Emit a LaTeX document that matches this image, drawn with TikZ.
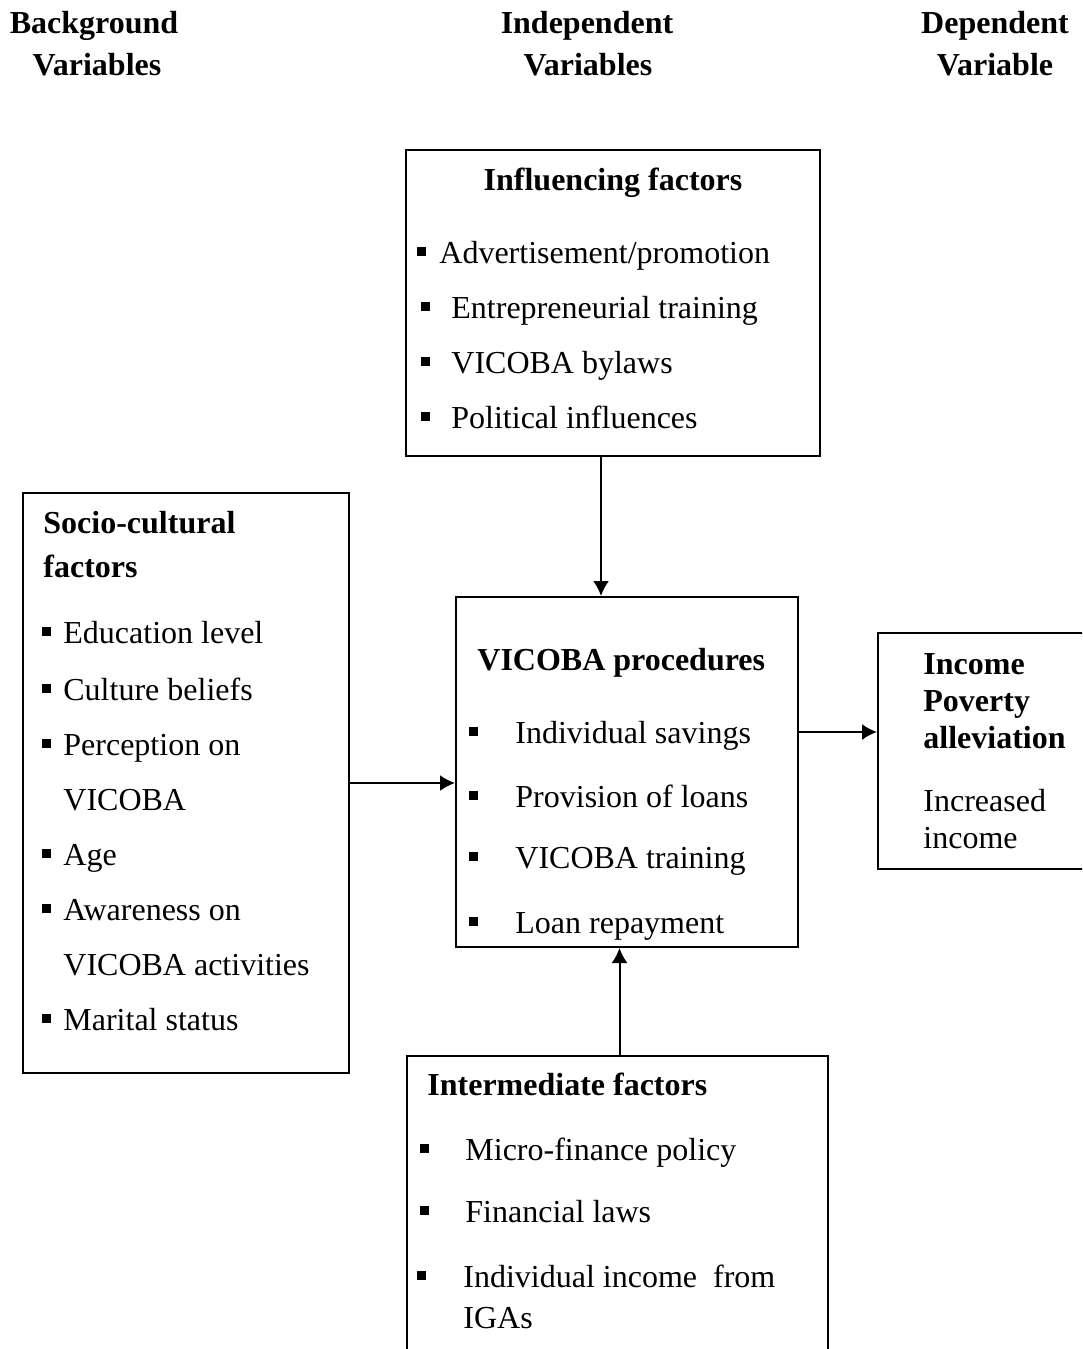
\documentclass[tikz,border=0pt]{standalone}
\usepackage{fontspec}
\setmainfont{Liberation Serif}
\usetikzlibrary{positioning,fit,arrows.meta}

\begin{document}
\begin{tikzpicture}[
    x=0.5pt, y=-0.5pt,
    box/.style={draw, line width=1pt, inner sep=0pt},
    head/.style={font=\fontsize{16}{19}\selectfont\bfseries, inner sep=0pt},
    item/.style={font=\fontsize{16}{19}\selectfont, inner sep=0pt, anchor=base west},
    bullet/.style={fill, inner sep=0pt, minimum size=4.5pt},
    arrow/.style={-{Latex[length=7.5pt,width=8pt]}, line width=1pt}
  ]
  \useasboundingbox (0,0) rectangle (1082,1349);
  \clip (0,0) rectangle (1082,1349);

  % Column headings
  \node[head, anchor=base] (bg1) at (94,33) {Background};
  \node[head, anchor=base] (bg2) at (97,75) {Variables};
  \node[head, anchor=base] (iv1) at (587,33) {Independent};
  \node[head, anchor=base] (iv2) at (588,75) {Variables};
  \node[head, anchor=base] (dv1) at (995,33) {Dependent};
  \node[head, anchor=base] (dv2) at (995,75) {Variable};

  % Boxes
  \node[box, fit={(406,150) (820,456)}] (infl) {};
  \node[box, fit={(23,493) (349,1073)}] (socio) {};
  \node[box, fit={(456,597) (798,947)}] (proc) {};
  \node[box, fit={(878,633) (1110,869)}] (income) {};
  \node[box, fit={(407,1056) (828,1390)}] (inter) {};

  % Influencing factors
  \node[head, anchor=base] (infl-h) at (613,190) {Influencing factors};
  \foreach \i/\bx/\tx/\y/\txt in {1/421.5/439/263/{Advertisement/promotion},
      2/425/451/318/{Entrepreneurial training},
      3/425/451/373/{VICOBA bylaws},
      4/425/451/428/{Political influences}} {
    \node[bullet] (infl-b\i) at (\bx,\y-11.5) {};
    \node[item] (infl-\i) at (\tx,\y) {\txt};
  }

  % Socio-cultural factors
  \node[head, anchor=base west] (socio-h1) at (43,533) {Socio-cultural};
  \node[head, anchor=base west] (socio-h2) at (43,577) {factors};
  \foreach \i/\y/\txt in {1/643/{Education level},
      2/700/{Culture beliefs},
      3/755/{Perception on},
      4/865/{Age},
      5/920/{Awareness on},
      6/1030/{Marital status}} {
    \node[bullet] (socio-b\i) at (46,\y-11.5) {};
    \node[item] (socio-\i) at (63,\y) {\txt};
  }
  \node[item] (socio-3a) at (63,810) {VICOBA};
  \node[item] (socio-5a) at (63,975) {VICOBA activities};

  % VICOBA procedures
  \node[head, anchor=base west] (proc-h) at (477,670) {VICOBA procedures};
  \foreach \i/\y/\txt in {1/743/{Individual savings},
      2/807/{Provision of loans},
      3/868/{VICOBA training},
      4/933/{Loan repayment}} {
    \node[bullet] (proc-b\i) at (473.5,\y-11.5) {};
    \node[item] (proc-\i) at (515,\y) {\txt};
  }

  % Income poverty alleviation
  \node[head, anchor=base west] (inc-h1) at (923,674) {Income};
  \node[head, anchor=base west] (inc-h2) at (923,711) {Poverty};
  \node[head, anchor=base west] (inc-h3) at (923,748) {alleviation};
  \node[item] (inc-1) at (923,811) {Increased};
  \node[item] (inc-1a) at (923,848) {income};

  % Intermediate factors
  \node[head, anchor=base west] (inter-h) at (427,1095) {Intermediate factors};
  \foreach \i/\bx/\tx/\y/\txt in {1/424/465/1160/{Micro-finance policy},
      2/424/465/1222/{Financial laws},
      3/421/463/1287/{Individual income\ \ from}} {
    \node[bullet] (inter-b\i) at (\bx,\y-11.5) {};
    \node[item] (inter-\i) at (\tx,\y) {\txt};
  }
  \node[item] (inter-3a) at (463,1328) {IGAs};

  % Arrows
  \draw[arrow] ([xshift=-6pt]infl.south) -- ([xshift=-6pt]infl.south |- proc.north);
  \draw[arrow] (socio.east) -- (socio.east -| proc.west);
  \draw[arrow] ([yshift=20pt]proc.east) -- ([yshift=20pt]proc.east -| income.west);
  \draw[arrow] ([xshift=1pt]inter.north) -- ([xshift=1pt]inter.north |- proc.south);
\end{tikzpicture}
\end{document}
